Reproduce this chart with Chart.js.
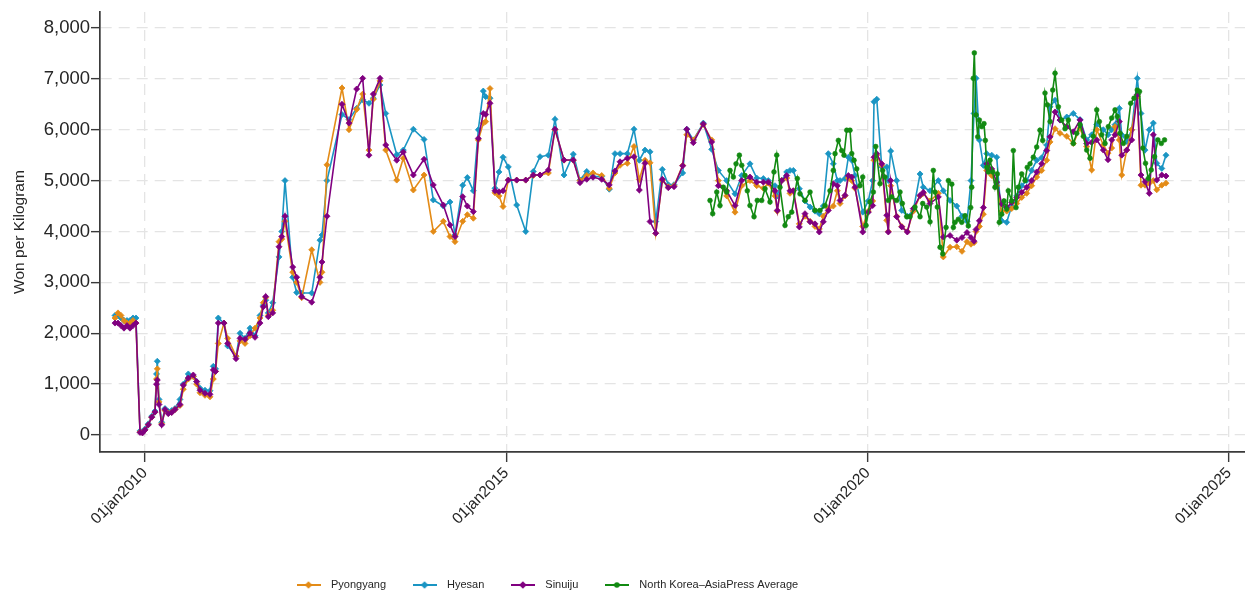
<!DOCTYPE html>
<html>
<head>
<meta charset="utf-8">
<title>Rice prices in North Korea</title>
<script src="https://cdn.jsdelivr.net/npm/chart.js@4.4.1/dist/chart.umd.min.js"></script>
<style>
  html, body { margin: 0; padding: 0; background: #ffffff; }
  #wrap { width: 1245px; height: 594px; }
</style>
</head>
<body>
<div id="wrap"><canvas id="chart" width="1245" height="594"></canvas></div>
<script>
// Observation dates (decimal years) shared by the three city series
const cityDates = [
  2009.585, 2009.626, 2009.668, 2009.709, 2009.751, 2009.792, 2009.834, 2009.875, 2009.931, 2009.965,
  2010.000, 2010.046, 2010.093, 2010.138, 2010.159, 2010.170, 2010.194, 2010.231, 2010.277, 2010.322,
  2010.369, 2010.415, 2010.484, 2010.530, 2010.599, 2010.668, 2010.715, 2010.761, 2010.830, 2010.899,
  2010.945, 2010.976, 2011.014, 2011.093, 2011.144, 2011.259, 2011.315, 2011.384, 2011.453, 2011.522,
  2011.591, 2011.637, 2011.670, 2011.706, 2011.767, 2011.854, 2011.892, 2011.937, 2012.044, 2012.099,
  2012.168, 2012.307, 2012.421, 2012.449, 2012.518, 2012.726, 2012.823, 2012.929, 2013.012, 2013.099,
  2013.159, 2013.252, 2013.331, 2013.483, 2013.574, 2013.713, 2013.861, 2013.989, 2014.128, 2014.220,
  2014.289, 2014.396, 2014.460, 2014.543, 2014.612, 2014.681, 2014.714, 2014.774, 2014.843, 2014.898,
  2014.954, 2015.027, 2015.143, 2015.268, 2015.373, 2015.466, 2015.581, 2015.673, 2015.798, 2015.926,
  2016.019, 2016.112, 2016.199, 2016.319, 2016.424, 2016.503, 2016.573, 2016.674, 2016.766, 2016.840,
  2016.918, 2016.988, 2017.067, 2017.158, 2017.241, 2017.320, 2017.440, 2017.496, 2017.587, 2017.725,
  2017.841, 2017.933, 2018.049, 2018.164, 2018.257, 2018.371, 2018.464, 2018.556, 2018.625, 2018.717,
  2018.749, 2018.810, 2018.879, 2018.925, 2018.971, 2019.054, 2019.132, 2019.202, 2019.271, 2019.330,
  2019.386, 2019.455, 2019.524, 2019.580, 2019.617, 2019.686, 2019.732, 2019.779, 2019.824, 2019.931,
  2020.008, 2020.069, 2020.087, 2020.125, 2020.194, 2020.263, 2020.285, 2020.318, 2020.401, 2020.471,
  2020.548, 2020.631, 2020.724, 2020.769, 2020.862, 2020.977, 2021.046, 2021.139, 2021.232, 2021.305,
  2021.374, 2021.429, 2021.471, 2021.499, 2021.545, 2021.600, 2021.647, 2021.716, 2021.785, 2021.854,
  2021.923, 2021.992, 2022.062, 2022.131, 2022.200, 2022.269, 2022.338, 2022.407, 2022.477, 2022.523,
  2022.592, 2022.661, 2022.754, 2022.845, 2022.938, 2023.030, 2023.099, 2023.169, 2023.260, 2023.325,
  2023.376, 2023.422, 2023.481, 2023.515, 2023.584, 2023.653, 2023.730, 2023.781, 2023.837, 2023.896,
  2023.952, 2023.999, 2024.069, 2024.127
];

// Won per kilogram, Pyongyang
const pyongyang = [
  2300, 2400, 2350, 2250, 2200, 2200, 2250, 2200, 60, 50,
  100, 200, 350, 450, 1100, 1300, 650, 220, 480, 430,
  450, 500, 580, 900, 1100, 1150, 1000, 830, 780, 750,
  1100, 1250, 1800, 2200, 1900, 1550, 1850, 1800, 1950, 2100,
  2300, 2600, 2700, 2350, 2450, 3800, 3850, 4200, 3200, 3000,
  2700, 3640, 3000, 3200, 5310, 6820, 6000, 6400, 6700, 5600,
  6600, 6960, 5600, 5010, 5440, 4815, 5110, 4000, 4200, 3900,
  3800, 4200, 4330, 4260, 5800, 6130, 6160, 6810, 4760, 4700,
  4490, 5010, 5010, 5010, 5100, 5110, 5150, 6000, 5400, 5400,
  5000, 5100, 5150, 5100, 4850, 5150, 5300, 5340, 5670, 5020,
  5400, 5350, 3965, 5000, 4880, 4900, 5300, 5900, 5800, 6100,
  5800, 5000, 4700, 4380, 4900, 5000, 4900, 4850, 4950, 4700,
  4400, 5000, 5050, 4750, 4800, 4150, 4300, 4200, 4100, 4050,
  4300, 4450, 4500, 4800, 4550, 4700, 5050, 5000, 4850, 4100,
  4400, 4600, 5400, 5500, 5300, 4220, 4000, 4900, 4300, 4100,
  4000, 4400, 4700, 4750, 4600, 4750, 3500, 3690, 3700, 3610,
  3800, 3750, 3780, 4000, 4100, 4340, 5200, 5100, 4900, 4400,
  4400, 4450, 4550, 4670, 4750, 4900, 5070, 5200, 5400, 5760,
  6020, 5930, 5870, 5730, 6030, 5670, 5210, 6000, 5700, 5540,
  5640, 6060, 5800, 5110, 5600, 6000, 6650, 4910, 4910, 4950,
  5000, 4820, 4910, 4950
];

// Won per kilogram, Hyesan
const hyesan = [
  2350, 2350, 2300, 2250, 2250, 2250, 2300, 2300, 80, 60,
  120, 220, 370, 470, 1200, 1450, 700, 250, 520, 460,
  480, 520, 700, 1000, 1200, 1150, 1050, 920, 880, 870,
  1350, 1300, 2300, 2200, 1750, 1550, 2000, 1900, 2100, 1950,
  2350, 2550, 2650, 2400, 2600, 3500, 4000, 5000, 3100, 2800,
  2790, 2790, 3830, 3930, 5000, 6300, 6200, 6420, 6590, 6520,
  6620, 6880, 6320, 5510, 5600, 6010, 5810, 4620, 4500, 4580,
  3930, 4910, 5060, 4800, 6000, 6760, 6650, 6620, 4850, 5170,
  5460, 5270, 4520, 4000, 5180, 5470, 5500, 6205, 5110, 5520,
  5010, 5180, 5080, 5080, 4830, 5530, 5530, 5530, 6010, 5400,
  5600, 5565, 4195, 5220, 4920, 4920, 5150, 6010, 5800, 6130,
  5615, 5200, 5000, 4740, 5100, 5330, 5050, 5040, 5000, 4900,
  4700, 5000, 5170, 5200, 5200, 4840, 4600, 4480, 4400, 4350,
  4500, 5530, 5330, 5000, 5000, 5040, 5460, 5400, 5100, 4380,
  4600, 5000, 6550, 6600, 5270, 5270, 5000, 5580, 5000, 4415,
  4300, 4415, 5130, 4870, 4800, 5000, 4800, 4610, 4500, 4300,
  4200, 5000, 6320, 7010, 5800, 5300, 5530, 5500, 5460, 4210,
  4180, 4500, 4700, 4900, 5000, 5200, 5400, 5450, 5700, 6450,
  6580, 6190, 6250, 6320, 6200, 5800, 5900, 6100, 6000, 5900,
  6000, 6100, 6420, 5900, 5770, 6000, 7010, 6320, 5600, 6000,
  6130, 5340, 5240, 5500
];

// Won per kilogram, Sinuiju
const sinuiju = [
  2200, 2200, 2150, 2100, 2150, 2100, 2150, 2200, 50, 40,
  100, 200, 350, 450, 1000, 1080, 600, 200, 500, 420,
  440, 500, 600, 980, 1120, 1180, 1050, 880, 820, 800,
  1280, 1250, 2200, 2200, 1800, 1500, 1900, 1880, 2000, 1920,
  2200, 2520, 2720, 2325, 2400, 3700, 3900, 4300, 3300, 3100,
  2720, 2610, 3100, 3400, 4300, 6500, 6130, 6800, 7010, 5500,
  6700, 7010, 5700, 5400, 5560, 5110, 5420, 4915, 4520, 4130,
  3900, 4685, 4500, 4390, 5830, 6320, 6300, 6520, 4800, 4780,
  4800, 5010, 5010, 5010, 5110, 5110, 5210, 6010, 5405, 5405,
  4960, 5025, 5065, 5025, 4915, 5190, 5370, 5440, 5470, 4815,
  5340, 4195, 3965, 5025, 4860, 4880, 5290, 6010, 5745, 6115,
  5760, 4900, 4800, 4510, 5000, 5070, 4970, 4970, 4970, 4800,
  4415, 5000, 5100, 4800, 4800, 4090, 4350, 4190, 4150, 3990,
  4190, 4415, 4940, 4900, 4610, 4710, 5100, 5070, 4870, 3990,
  4380, 4510, 5460, 5530, 5330, 4320, 3990, 5000, 4290, 4090,
  3990, 4450, 4710, 4770, 4550, 4680, 3890, 3920, 3830, 3880,
  3980, 3880, 3810, 4040, 4210, 4470, 5330, 5230, 4970, 4540,
  4470, 4570, 4670, 4770, 4870, 5000, 5170, 5330, 5590, 5860,
  6350, 6190, 6060, 5960, 6190, 5730, 5750, 5800, 5600, 5410,
  5800, 5900, 6160, 5500, 5600, 5800, 6690, 5110, 4980, 4750,
  5900, 5010, 5110, 5090
];

// North Korea average from AsiaPress reports
const avgDates = [
  2017.818, 2017.855, 2017.911, 2017.956, 2018.002, 2018.049, 2018.095, 2018.141, 2018.178, 2018.224,
  2018.257, 2018.302, 2018.334, 2018.371, 2018.427, 2018.472, 2018.533, 2018.579, 2018.648, 2018.703,
  2018.741, 2018.786, 2018.856, 2018.901, 2018.948, 2019.026, 2019.063, 2019.132, 2019.202, 2019.271,
  2019.340, 2019.409, 2019.478, 2019.524, 2019.548, 2019.594, 2019.640, 2019.672, 2019.710, 2019.755,
  2019.779, 2019.811, 2019.848, 2019.893, 2019.931, 2019.977, 2020.032, 2020.078, 2020.111, 2020.170,
  2020.207, 2020.239, 2020.285, 2020.332, 2020.401, 2020.447, 2020.479, 2020.540, 2020.585, 2020.654,
  2020.724, 2020.761, 2020.816, 2020.862, 2020.908, 2020.931, 2020.963, 2021.001, 2021.038, 2021.084,
  2021.116, 2021.163, 2021.185, 2021.208, 2021.254, 2021.301, 2021.346, 2021.392, 2021.425, 2021.439,
  2021.461, 2021.475, 2021.499, 2021.522, 2021.545, 2021.578, 2021.609, 2021.627, 2021.647, 2021.669,
  2021.692, 2021.730, 2021.761, 2021.793, 2021.821, 2021.854, 2021.886, 2021.923, 2021.945, 2021.992,
  2022.015, 2022.052, 2022.084, 2022.131, 2022.177, 2022.208, 2022.246, 2022.292, 2022.338, 2022.384,
  2022.421, 2022.453, 2022.485, 2022.523, 2022.560, 2022.592, 2022.638, 2022.685, 2022.730, 2022.776,
  2022.845, 2022.892, 2022.938, 2022.984, 2023.030, 2023.076, 2023.122, 2023.169, 2023.205, 2023.238,
  2023.284, 2023.329, 2023.376, 2023.422, 2023.453, 2023.491, 2023.537, 2023.584, 2023.639, 2023.685,
  2023.730, 2023.761, 2023.807, 2023.844, 2023.882, 2023.923, 2023.969, 2024.015, 2024.062, 2024.107
];
const avgPrice = [
  4610, 4350, 4775, 4510, 4870, 4775, 5200, 5070, 5330, 5500,
  5300, 5100, 4800, 4510, 4290, 4610, 4610, 4840, 4580, 5170,
  5500, 4870, 4120, 4290, 4380, 5040, 4740, 4610, 4775, 4415,
  4415, 4510, 4800, 5200, 5530, 5790, 5590, 5500, 5990, 5990,
  5530, 5400, 5230, 4900, 5070, 4120, 4580, 4775, 5670, 4940,
  5200, 5070, 4610, 4680, 4610, 4775, 4550, 4290, 4290, 4480,
  4290, 4550, 4480, 4190, 5200, 4775, 4480, 3690, 3560, 4080,
  5000, 4930, 4080, 4180, 4240, 4180, 4310, 4110, 4470, 4870,
  7010, 7510, 6290, 5860, 6190, 6060, 6120, 5790, 5260, 5170,
  5400, 5170, 4870, 5130, 4180, 4340, 4600, 4440, 4800, 4600,
  5590, 4470, 4870, 5130, 5000, 5260, 5330, 5460, 5660, 5990,
  5790, 6720, 6490, 6160, 6780, 7110, 6450, 6190, 6020, 6190,
  5730, 5930, 6100, 5870, 5600, 5440, 5870, 6390, 6160, 5900,
  5730, 6060, 6230, 6390, 6260, 5930, 5730, 5870, 6520, 6620,
  6780, 6750, 5640, 5340, 5040, 5210, 5470, 5800, 5730, 5800
];

// Axis ticks
const yearTicks = [2010, 2015, 2020, 2025];
const priceTicks = [0, 1000, 2000, 3000, 4000, 5000, 6000, 7000, 8000];

// Axis ranges and styling
const X_MIN = 2009.3773;
const X_MAX = 2025.2204;
const Y_MIN = -334;
const Y_MAX = 8314;

const FONT = '"Liberation Sans", Arial, Helvetica, sans-serif';
const TEXT = '#262626';
const AXIS = '#3a3a3a';
const GRID = '#e4e4e4';

const COLORS = {
  pyongyang: '#e38b17',
  hyesan: '#1a95c3',
  sinuiju: '#800080',
  average: '#128a12'
};

Chart.defaults.font.family = FONT;
Chart.defaults.color = TEXT;

function pairs(xs, ys) {
  return xs.map((x, i) => ({ x: x, y: ys[i] }));
}

// Small line-and-marker swatch for the legend
function swatch(color, shape) {
  const c = document.createElement('canvas');
  c.width = 24;
  c.height = 10;
  const g = c.getContext('2d');
  g.strokeStyle = color;
  g.lineWidth = 2;
  g.beginPath();
  g.moveTo(0, 5);
  g.lineTo(24, 5);
  g.stroke();
  g.fillStyle = color;
  g.beginPath();
  if (shape === 'diamond') {
    g.moveTo(12, 1.2);
    g.lineTo(15.8, 5);
    g.lineTo(12, 8.8);
    g.lineTo(8.2, 5);
    g.closePath();
  } else {
    g.arc(12, 5, 2.8, 0, Math.PI * 2);
  }
  g.fill();
  return c;
}

const swatches = [
  swatch(COLORS.pyongyang, 'diamond'),
  swatch(COLORS.hyesan, 'diamond'),
  swatch(COLORS.sinuiju, 'diamond'),
  swatch(COLORS.average, 'circle')
];

function cityLine(label, values, color, order) {
  return {
    label: label,
    data: pairs(cityDates, values),
    borderColor: color,
    backgroundColor: color,
    borderWidth: 1.6,
    pointStyle: 'rectRot',
    pointRadius: 3,
    pointBorderWidth: 0.8,
    pointBackgroundColor: color,
    pointBorderColor: color,
    tension: 0,
    order: order
  };
}

// Legend band height and its final placement
const LEGEND_BAND = 54;
const legendPlacement = {
  id: 'legendPlacement',
  beforeLayout(chart) {
    const lg = chart.legend;
    if (lg && !lg._bandFixed) {
      const fit = lg.fit;
      lg.fit = function () {
        fit.call(this);
        this.height = LEGEND_BAND;
      };
      lg._bandFixed = true;
    }
  },
  afterLayout(chart) {
    const lg = chart.legend;
    if (!lg) return;
    lg.left = 270;
    lg.top = 558;
    lg.bottom = lg.top + lg.height;
  }
};

new Chart(document.getElementById('chart'), {
  type: 'line',
  data: {
    datasets: [
      cityLine('Pyongyang', pyongyang, COLORS.pyongyang, 2),
      cityLine('Hyesan', hyesan, COLORS.hyesan, 3),
      cityLine('Sinuiju', sinuiju, COLORS.sinuiju, 1),
      {
        label: 'North Korea\u2013AsiaPress Average',
        data: pairs(avgDates, avgPrice),
        borderColor: COLORS.average,
        backgroundColor: COLORS.average,
        borderWidth: 1.6,
        pointStyle: 'circle',
        pointRadius: 2.4,
        pointBorderWidth: 0.6,
        pointBackgroundColor: COLORS.average,
        pointBorderColor: COLORS.average,
        tension: 0,
        order: 0
      }
    ]
  },
  options: {
    responsive: false,
    animation: false,
    events: [],
    layout: { autoPadding: false, padding: { top: 12, right: 0, bottom: 0, left: 0 } },
    plugins: {
      title: { display: false },
      tooltip: { enabled: false },
      legend: {
        display: true,
        position: 'bottom',
        align: 'start',
        labels: {
          usePointStyle: true,
          pointStyleWidth: 34,
          padding: 21.5,
          color: TEXT,
          font: { size: 11, family: FONT },
          sort: (a, b) => a.datasetIndex - b.datasetIndex,
          generateLabels(chart) {
            const items = Chart.defaults.plugins.legend.labels.generateLabels(chart);
            items.forEach(it => {
              it.pointStyle = swatches[it.datasetIndex];
              it.lineWidth = 0;
            });
            return items;
          }
        }
      }
    },
    scales: {
      x: {
        type: 'linear',
        position: 'bottom',
        min: X_MIN,
        max: X_MAX,
        bounds: 'data',
        afterBuildTicks(scale) {
          scale.ticks = yearTicks.map(v => ({ value: v }));
        },
        afterFit(scale) {
          scale.height = 88;
          scale.paddingLeft = 0;
          scale.paddingRight = 0;
        },
        ticks: {
          autoSkip: false,
          minRotation: 45,
          maxRotation: 45,
          padding: 2,
          color: TEXT,
          font: { size: 15.5, family: FONT },
          callback: (v) => '01jan' + v
        },
        grid: {
          color: GRID,
          lineWidth: 1.3,
          tickLength: 10,
          tickColor: AXIS,
          tickWidth: 1.4
        },
        border: { display: true, color: AXIS, width: 1.7, dash: [11, 7] }
      },
      y: {
        type: 'linear',
        position: 'left',
        min: Y_MIN,
        max: Y_MAX,
        bounds: 'data',
        afterBuildTicks(scale) {
          scale.ticks = priceTicks.map(v => ({ value: v }));
        },
        afterFit(scale) {
          scale.width = 100;
          scale.paddingTop = 0;
          scale.paddingBottom = 0;
        },
        ticks: {
          autoSkip: false,
          padding: 1,
          color: TEXT,
          font: { size: 18.5, family: FONT },
          callback: (v) => v.toLocaleString('en-US')
        },
        grid: {
          color: GRID,
          lineWidth: 1.3,
          tickLength: 9,
          tickColor: AXIS,
          tickWidth: 1.4
        },
        border: { display: true, color: AXIS, width: 1.7, dash: [11, 7] },
        title: {
          display: true,
          text: 'Won per Kilogram',
          color: TEXT,
          font: { size: 15.5, family: FONT },
          padding: { top: 10, bottom: 0 }
        }
      }
    }
  },
  plugins: [legendPlacement]
});
</script>
</body>
</html>
